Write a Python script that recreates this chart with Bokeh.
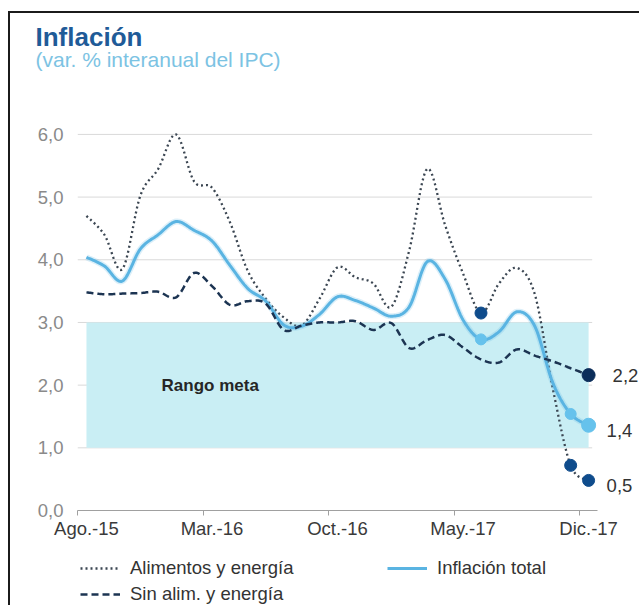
import numpy as np
from bokeh.plotting import figure
from bokeh.models import FixedTicker, Legend, LegendItem, Label, Title
from bokeh.layouts import column
from bokeh.core.properties import value
from bokeh.embed import file_html
from bokeh.resources import INLINE

# Monthly series, Aug-2015 .. Dec-2017 (12-month % change of the CPI)
months = ["Ago.-15", "Set.-15", "Oct.-15", "Nov.-15", "Dic.-15",
          "Ene.-16", "Feb.-16", "Mar.-16", "Abr.-16", "May.-16", "Jun.-16",
          "Jul.-16", "Ago.-16", "Set.-16", "Oct.-16", "Nov.-16", "Dic.-16",
          "Ene.-17", "Feb.-17", "Mar.-17", "Abr.-17", "May.-17", "Jun.-17",
          "Jul.-17", "Ago.-17", "Set.-17", "Oct.-17", "Nov.-17", "Dic.-17"]
tick_months = ["Ago.-15", "Mar.-16", "Oct.-16", "May.-17", "Dic.-17"]

alimentos_energia = [4.70, 4.40, 3.85, 5.02, 5.45, 6.00, 5.25, 5.15, 4.60,
                     3.82, 3.38, 3.08, 2.95, 3.38, 3.88, 3.72, 3.62, 3.25,
                     4.15, 5.45, 4.55, 3.78, 3.15, 3.62, 3.87, 3.45, 1.95,
                     0.72, 0.48]
inflacion_total = [4.04, 3.90, 3.66, 4.17, 4.40, 4.61, 4.47, 4.30, 3.91,
                   3.54, 3.34, 2.96, 2.94, 3.13, 3.41, 3.35, 3.23, 3.10,
                   3.25, 3.97, 3.69, 3.04, 2.73, 2.85, 3.17, 2.94, 2.04,
                   1.54, 1.36]
sin_alim_energia = [3.48, 3.45, 3.46, 3.47, 3.49, 3.40, 3.79, 3.58, 3.28,
                    3.34, 3.30, 2.88, 2.95, 3.00, 3.00, 3.02, 2.88, 2.99,
                    2.59, 2.72, 2.80, 2.60, 2.41, 2.36, 2.57, 2.47, 2.38,
                    2.27, 2.16]

meta_min, meta_max = 1.0, 3.0
y_ticks = [0, 1, 2, 3, 4, 5, 6]
y_tick_labels = ["0,0", "1,0", "2,0", "3,0", "4,0", "5,0", "6,0"]

# highlighted months
marked_ae = ["Jun.-17", "Nov.-17", "Dic.-17"]
marked_total = ["Jun.-17", "Nov.-17", "Dic.-17"]
marked_core = ["Dic.-17"]

FONT = "Liberation Sans"
x = np.arange(len(months), dtype=float)
x_lo, x_hi = -0.5, len(months) - 0.5     # extent of the time axis

# series styles (shared by the chart and the legend strip)
STYLE_AE = dict(line_color="#3b4652", line_width=2.3, line_dash="2 3")
STYLE_TOT = dict(line_color="#5ab4e2", line_width=3)
STYLE_CORE = dict(line_color="#1c3452", line_width=2.5, line_dash="7 4")


def smooth(xs, ys, n=14):
    """Catmull-Rom curve through every point (smoothed-line rendering)."""
    xs = np.asarray(xs, float)
    ys = np.asarray(ys, float)
    px = np.concatenate([[xs[0]], xs, [xs[-1]]])
    py = np.concatenate([[ys[0]], ys, [ys[-1]]])
    t = np.linspace(0, 1, n, endpoint=False)
    ox, oy = [], []
    for i in range(1, len(px) - 2):
        for arr, out in ((px, ox), (py, oy)):
            p0, p1, p2, p3 = arr[i - 1], arr[i], arr[i + 1], arr[i + 2]
            out.extend(0.5 * (2 * p1 + (-p0 + p2) * t
                              + (2 * p0 - 5 * p1 + 4 * p2 - p3) * t ** 2
                              + (-p0 + 3 * p1 - 3 * p2 + p3) * t ** 3))
    ox.append(xs[-1])
    oy.append(ys[-1])
    return ox, oy


# main chart; the frame runs past the time axis so the end labels fit
p = figure(width=631, height=532,
           x_range=(x_lo, x_hi + 2.45), y_range=(0, 6.19),
           output_backend="svg", toolbar_location=None,
           min_border_left=67, min_border_right=0,
           min_border_top=109, min_border_bottom=35)
p.outline_line_color = None
p.background_fill_color = "white"
p.border_fill_color = "white"

# panels above the frame, innermost first: blank spacer, subtitle; title outermost
p.add_layout(Title(text=" ", standoff=39, text_font=FONT, text_font_size="10px",
                   text_color="white"), "above")
p.add_layout(Title(text="(var. % interanual del IPC)", align="left", offset=-42,
                   standoff=0, text_font=FONT, text_font_size="21px",
                   text_font_style="normal", text_color="#7cc3e3"), "above")
p.title.text = "Inflación"
p.title.align = "left"
p.title.offset = -42
p.title.standoff = -13
p.title.text_font = FONT
p.title.text_font_size = "26px"
p.title.text_font_style = "bold"
p.title.text_color = "#1f5b98"

# axes and grid
p.xgrid.visible = False
p.ygrid.visible = False
p.segment(x0=x_lo, x1=x_hi - 0.3, y0=y_ticks, y1=y_ticks,
          line_color="#d9d9d9", line_width=1)

p.yaxis.ticker = FixedTicker(ticks=y_ticks)
p.yaxis.major_label_overrides = dict(zip(y_ticks, y_tick_labels))
p.yaxis.axis_line_color = None
p.yaxis.major_tick_line_color = None
p.yaxis.minor_tick_line_color = None
p.yaxis.major_tick_out = 0
p.yaxis.major_label_standoff = 14
p.yaxis.major_label_text_font = FONT
p.yaxis.major_label_text_font_size = "18.5px"
p.yaxis.major_label_text_color = "#8a8a8a"

tick_idx = [months.index(m) for m in tick_months]
p.xaxis.ticker = FixedTicker(ticks=tick_idx, minor_ticks=[i - 0.5 for i in tick_idx])
p.xaxis.major_label_overrides = {i: months[i] for i in tick_idx}
p.xaxis.bounds = (x_lo, x_hi)
p.xaxis.axis_line_color = "#a0a0a0"
p.xaxis.major_tick_line_color = None
p.xaxis.major_tick_out = 0
p.xaxis.minor_tick_in = 0
p.xaxis.minor_tick_out = 5
p.xaxis.minor_tick_line_color = "#a0a0a0"
p.xaxis.major_label_standoff = 2
p.xaxis.major_label_text_font = FONT
p.xaxis.major_label_text_font_size = "18.5px"
p.xaxis.major_label_text_color = "#3a3a3a"

# target range band
p.quad(left=x[0], right=x[-1], bottom=meta_min, top=meta_max,
       fill_color="#c9eef4", line_color=None)
p.text(x=[6.9], y=[(meta_min + meta_max) / 2], text=["Rango meta"],
       text_font=value(FONT), text_font_size="17px", text_font_style="bold",
       text_color="#262626", text_align="center", text_baseline="middle")

# series
sx, sy = smooth(x, alimentos_energia)
p.line(sx, sy, **STYLE_AE)

sx, sy = smooth(x, inflacion_total)
p.line(sx, sy, line_color="#5bb5e2", line_width=6, line_alpha=0.22)
p.line(sx, sy, **STYLE_TOT)

sx, sy = smooth(x, sin_alim_energia)
p.line(sx, sy, **STYLE_CORE)

# highlighted points
def pick(series, names):
    idx = [months.index(m) for m in names]
    return [x[i] for i in idx], [series[i] for i in idx]

mx, my = pick(alimentos_energia, marked_ae)
p.scatter(mx, my, size=12, fill_color="#0f4c8c", line_color="#0f4c8c")
mx, my = pick(inflacion_total, marked_total)
p.scatter(mx, my, size=[11, 11, 14], fill_color="#66c2ec", line_color="#66c2ec")
mx, my = pick(sin_alim_energia, marked_core)
p.scatter(mx, my, size=13, fill_color="#0b2d5a", line_color="#0b2d5a")

# end-of-period value labels
def fmt(v):
    return f"{v:.1f}".replace(".", ",")

for series, dx, dy in ((sin_alim_energia, 24, 0),
                       (inflacion_total, 18, -5),
                       (alimentos_energia, 18, -5)):
    p.add_layout(Label(x=x[-1], y=series[-1], text=fmt(series[-1]),
                       x_offset=dx, y_offset=dy, text_baseline="middle",
                       text_font=FONT, text_font_size="18.5px",
                       text_color="#333333"))

# legend strip under the chart (key lines carry no visible data)
leg = figure(width=631, height=62, x_range=(0, 1), y_range=(0, 1),
             output_backend="svg", toolbar_location=None,
             x_axis_location=None, y_axis_location=None,
             min_border_left=0, min_border_right=0,
             min_border_top=0, min_border_bottom=0)
leg.grid.visible = False
leg.outline_line_color = None
leg.background_fill_color = "white"
leg.border_fill_color = "white"
nan = np.array([np.nan])
k_ae = leg.line(x=nan, y=nan, **STYLE_AE)
k_tot = leg.line(x=nan, y=nan, **STYLE_TOT)
k_core = leg.line(x=nan, y=nan, **STYLE_CORE)

legend = Legend(items=[LegendItem(label="Alimentos y energía", renderers=[k_ae]),
                       LegendItem(label="Inflación total", renderers=[k_tot]),
                       LegendItem(label="Sin alim. y energía", renderers=[k_core])],
                location=(3, 2), orientation="horizontal", ncols=2,
                background_fill_alpha=0, border_line_color=None,
                padding=0, margin=0, spacing=4,
                glyph_width=40, glyph_height=20, label_height=20,
                label_width=253, label_standoff=10,
                label_text_font=FONT, label_text_font_size="18.5px",
                label_text_color="#333333")
leg.add_layout(legend)

page = column(p, leg, spacing=0)
page.margin = (13, 0, 0, 10)
page.styles = {"box-shadow": "-2px -2px 0 0 #1b1b1b"}

open("out.html", "w").write(file_html(page, INLINE))
